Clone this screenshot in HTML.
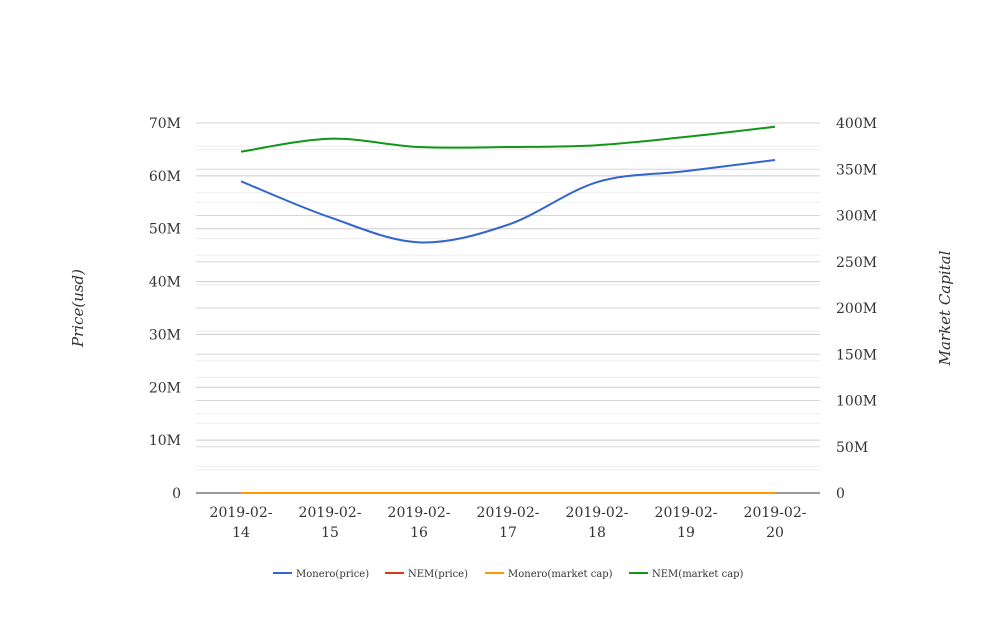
<!DOCTYPE html>
<html><head><meta charset="utf-8"><style>
body{margin:0;background:#fff}
svg text{font-family:"DejaVu Serif","Liberation Serif",serif;fill:#333}
</style></head><body>
<svg id="chart" width="1008" height="616" xmlns="http://www.w3.org/2000/svg">
<g id="grid"></g>
<g id="axes"></g>
<g id="series"></g>
<text transform="translate(83,308) rotate(-90)" text-anchor="middle" font-size="15" font-style="italic">Price(usd)</text>
<text transform="translate(950,308) rotate(-90)" text-anchor="middle" font-size="15" font-style="italic">Market Capital</text>
<g id="legend"></g>
</svg>
<script>
const categories=["2019-02-14","2019-02-15","2019-02-16","2019-02-17","2019-02-18","2019-02-19","2019-02-20"];
const moneroPrice=[337,298,271,290,336,348,360];
const nemPrice=[0,0,0,0,0,0,0];
const moneroCap=[0,0,0,0,0,0,0];
const nemCap=[369,383,374,374,376,385,396];
const leftTicks=["0","10M","20M","30M","40M","50M","60M","70M"];
const rightTicks=["0","50M","100M","150M","200M","250M","300M","350M","400M"];

const NS="http://www.w3.org/2000/svg";
const X0=196,X1=820,Y0=493,Y1=123;
const xs=i=>241+i*89;
const yL=v=>Y0-(v/70)*(Y0-Y1);
const yR=v=>Y0-(v/400)*(Y0-Y1);
function mk(tag,attrs,parent){const e=document.createElementNS(NS,tag);for(const k in attrs)e.setAttribute(k,attrs[k]);parent.appendChild(e);return e;}
const grid=document.getElementById('grid'),axes=document.getElementById('axes'),series=document.getElementById('series'),legend=document.getElementById('legend');
for(let i=0;i<leftTicks.length;i++){
 const y=yL(i*10);
 if(i>0){const l=mk('line',{x1:X0,x2:X1,y1:y,y2:y,stroke:'#ccc'},grid);
 
 
 const m=mk('line',{x1:X0,x2:X1,y1:yL(i*10-5),y2:yL(i*10-5),stroke:'#eee'},grid);
 
 }
 const t=mk('text',{x:181,y:y+5,'text-anchor':'end','font-size':14},axes);t.textContent=leftTicks[i];
 
 
}
for(let i=0;i<rightTicks.length;i++){
 const y=yR(i*50);
 if(i>0){const l=mk('line',{x1:X0,x2:X1,y1:y,y2:y,stroke:'#d6d6d6'},grid);
 
 
 const m=mk('line',{x1:X0,x2:X1,y1:yR(i*50-25),y2:yR(i*50-25),stroke:'#eee'},grid);
 
 }
 const t=mk('text',{x:836,y:y+5,'font-size':14},axes);t.textContent=rightTicks[i];
 
 
}
const base=mk('line',{x1:X0,x2:X1,y1:Y0,y2:Y0,stroke:'#333'},axes);


categories.forEach((c,i)=>{
 const p=c.split('-');
 const t=mk('text',{x:xs(i),y:517,'text-anchor':'middle','font-size':14},axes);
 
 
 mk('tspan',{x:xs(i),dy:0},t).textContent=p[0]+'-'+p[1]+'-';
 mk('tspan',{x:xs(i),dy:20},t).textContent=p[2];
});
function path(vals,fy){
 const pts=vals.map((v,i)=>[xs(i),fy(v)]);
 let d='M'+pts[0][0]+','+pts[0][1];
 for(let i=0;i<pts.length-1;i++){
  const p0=pts[Math.max(0,i-1)],p1=pts[i],p2=pts[i+1],p3=pts[Math.min(pts.length-1,i+2)];
  const c1=[p1[0]+(p2[0]-p0[0])/6,p1[1]+(p2[1]-p0[1])/6],c2=[p2[0]-(p3[0]-p1[0])/6,p2[1]-(p3[1]-p1[1])/6];
  d+=` C${c1[0]},${c1[1]} ${c2[0]},${c2[1]} ${p2[0]},${p2[1]}`;
 }
 return d;
}
const defs=[["Monero(price)",moneroPrice,'#3366cc',yR,'monero-price-line'],["NEM(price)",nemPrice,'#dc3912',yL,'nem-price-line'],["Monero(market cap)",moneroCap,'#ff9900',yR,'monero-cap-line'],["NEM(market cap)",nemCap,'#109618',yR,'nem-cap-line']];
[1,2,0,3].forEach(k=>{const s=defs[k];
 const p=mk('path',{d:path(s[1],s[3]),fill:'none',stroke:s[2],'stroke-width':2},series);
 
 
});
const lx=[273,385,485,629];
defs.forEach((s,i)=>{
 const g=mk('g',{},legend);
 
 
 mk('line',{x1:lx[i],x2:lx[i]+19,y1:573,y2:573,stroke:s[2],'stroke-width':2},g);
 const t=mk('text',{x:lx[i]+23,y:577,'font-size':10},g);t.textContent=s[0];
});
</script>
</body></html>
